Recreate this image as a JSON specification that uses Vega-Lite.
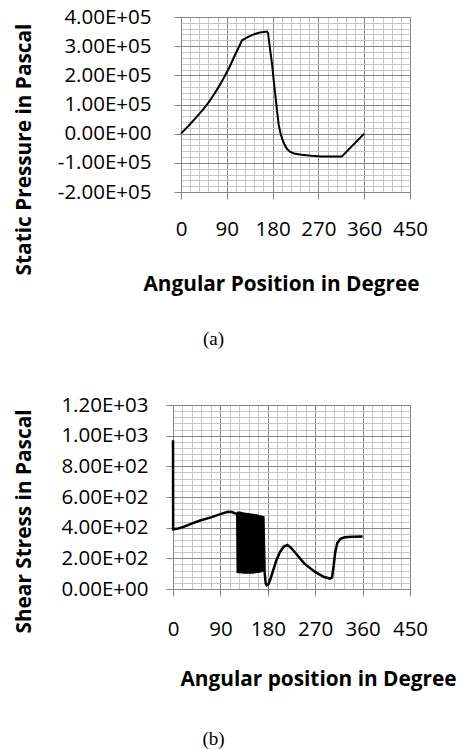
{
  "$schema": "https://vega.github.io/schema/vega-lite/v6.json",
  "padding": {"left": 13, "top": 7, "right": 0, "bottom": 0},
  "background": "white",
  "config": {
    "view": {"stroke": null},
    "axis": {
      "labelFont": "Open Sans", "labelFontSize": 20.5, "labelColor": "#000000",
      "titleFont": "Open Sans", "titleFontSize": 20.8, "titleFontWeight": "bold", "titleColor": "#000000",
      "domainColor": "#868686", "domainWidth": 1, "tickColor": "#868686", "tickWidth": 1,
      "labelOverlap": false, "labelFlush": false, "gridWidth": 1, "gridOpacity": 1
    }
  },
  "columns": 1,
  "spacing": 46,
  "datasets": {
    "pressure": [
      {"angle": 0, "pressure": 0},
      {"angle": 15, "pressure": 27000},
      {"angle": 29, "pressure": 54000},
      {"angle": 42, "pressure": 80000},
      {"angle": 55, "pressure": 109000},
      {"angle": 65, "pressure": 135000},
      {"angle": 75, "pressure": 163000},
      {"angle": 85, "pressure": 194000},
      {"angle": 95, "pressure": 227000},
      {"angle": 107, "pressure": 273000},
      {"angle": 114, "pressure": 298000},
      {"angle": 120, "pressure": 320000},
      {"angle": 133, "pressure": 333000},
      {"angle": 145, "pressure": 342000},
      {"angle": 155, "pressure": 347000},
      {"angle": 169, "pressure": 350000},
      {"angle": 171, "pressure": 345000},
      {"angle": 175, "pressure": 290000},
      {"angle": 179, "pressure": 238000},
      {"angle": 182, "pressure": 185000},
      {"angle": 186, "pressure": 123000},
      {"angle": 189, "pressure": 75000},
      {"angle": 192, "pressure": 31000},
      {"angle": 196, "pressure": -3000},
      {"angle": 202, "pressure": -32000},
      {"angle": 208, "pressure": -52000},
      {"angle": 214, "pressure": -62000},
      {"angle": 222, "pressure": -68000},
      {"angle": 237, "pressure": -72000},
      {"angle": 256, "pressure": -76000},
      {"angle": 276, "pressure": -78000},
      {"angle": 316, "pressure": -78000},
      {"angle": 360, "pressure": 0}
    ],
    "shear": [
      {"angle": 0, "stress": 970},
      {"angle": 0.3, "stress": 390},
      {"angle": 10, "stress": 395},
      {"angle": 20, "stress": 405},
      {"angle": 34, "stress": 425},
      {"angle": 50, "stress": 445},
      {"angle": 72, "stress": 467},
      {"angle": 90, "stress": 488},
      {"angle": 104, "stress": 504},
      {"angle": 112, "stress": 502},
      {"angle": 119, "stress": 492},
      {"angle": 122, "stress": 490},
      {"angle": 123, "stress": 105},
      {"angle": 124, "stress": 505},
      {"angle": 125, "stress": 103},
      {"angle": 126, "stress": 505},
      {"angle": 127, "stress": 102},
      {"angle": 128, "stress": 503},
      {"angle": 129, "stress": 102},
      {"angle": 130, "stress": 502},
      {"angle": 131, "stress": 101},
      {"angle": 132, "stress": 500},
      {"angle": 133, "stress": 101},
      {"angle": 134, "stress": 499},
      {"angle": 135, "stress": 100},
      {"angle": 136, "stress": 498},
      {"angle": 137, "stress": 100},
      {"angle": 138, "stress": 497},
      {"angle": 139, "stress": 100},
      {"angle": 140, "stress": 496},
      {"angle": 141, "stress": 100},
      {"angle": 142, "stress": 495},
      {"angle": 143, "stress": 100},
      {"angle": 144, "stress": 494},
      {"angle": 145, "stress": 100},
      {"angle": 146, "stress": 493},
      {"angle": 147, "stress": 100},
      {"angle": 148, "stress": 492},
      {"angle": 149, "stress": 100},
      {"angle": 150, "stress": 491},
      {"angle": 151, "stress": 100},
      {"angle": 152, "stress": 490},
      {"angle": 153, "stress": 101},
      {"angle": 154, "stress": 489},
      {"angle": 155, "stress": 102},
      {"angle": 156, "stress": 488},
      {"angle": 157, "stress": 103},
      {"angle": 158, "stress": 487},
      {"angle": 159, "stress": 104},
      {"angle": 160, "stress": 485},
      {"angle": 161, "stress": 105},
      {"angle": 162, "stress": 483},
      {"angle": 163, "stress": 106},
      {"angle": 164, "stress": 481},
      {"angle": 165, "stress": 108},
      {"angle": 166, "stress": 479},
      {"angle": 167, "stress": 110},
      {"angle": 168, "stress": 477},
      {"angle": 169, "stress": 112},
      {"angle": 170, "stress": 476},
      {"angle": 171, "stress": 114},
      {"angle": 171.5, "stress": 474},
      {"angle": 174, "stress": 110},
      {"angle": 176, "stress": 35},
      {"angle": 178, "stress": 24},
      {"angle": 181, "stress": 30},
      {"angle": 185, "stress": 65},
      {"angle": 190, "stress": 120},
      {"angle": 196, "stress": 185},
      {"angle": 203, "stress": 240},
      {"angle": 210, "stress": 275},
      {"angle": 217, "stress": 287},
      {"angle": 223, "stress": 272},
      {"angle": 233, "stress": 233},
      {"angle": 249, "stress": 167},
      {"angle": 269, "stress": 113},
      {"angle": 287, "stress": 78},
      {"angle": 298, "stress": 68},
      {"angle": 302, "stress": 75},
      {"angle": 305, "stress": 150},
      {"angle": 308, "stress": 240},
      {"angle": 312, "stress": 300},
      {"angle": 318, "stress": 328},
      {"angle": 326, "stress": 337},
      {"angle": 340, "stress": 341},
      {"angle": 360, "stress": 342}
    ]
  },
  "concat": [
    {
      "width": 237,
      "height": 175,
      "data": {"name": "pressure"},
      "title": {"text": "(a)", "orient": "bottom", "anchor": "middle", "frame": "group", "dx": -78, "offset": 36, "font": "Liberation Serif", "fontSize": 19, "fontWeight": "normal", "color": "#000000"},
      "mark": {"type": "line", "color": "#000000", "strokeWidth": 2},
      "encoding": {
        "x": {
          "field": "angle", "type": "quantitative",
          "scale": {"domain": [0, 450], "nice": false, "zero": false, "range": [8, 237]},
          "axis": {
            "values": [0, 18, 36, 54, 72, 90, 108, 126, 144, 162, 180, 198, 216, 234, 252, 270, 288, 306, 324, 342, 360, 378, 396, 414, 432, 450],
            "labelExpr": "datum.value % 90 == 0 ? datum.label : ''",
            "gridColor": {"condition": {"test": "datum.value % 90 == 0", "value": "#868686"}, "value": "#c6c6c6"},
            "tickOpacity": {"condition": {"test": "datum.value % 90 == 0", "value": 1}, "value": 0},
            "grid": true, "tickSize": 7, "labelPadding": 20, "domain": true,
            "title": "Angular Position in Degree",
            "titleX": 108, "titleY": 92, "titleAlign": "center", "titleBaseline": "middle"
          }
        },
        "y": {
          "field": "pressure", "type": "quantitative",
          "scale": {"domain": [-200000, 400000], "nice": false, "zero": false},
          "axis": {
            "values": [-200000, -180000, -160000, -140000, -120000, -100000, -80000, -60000, -40000, -20000, 0, 20000, 40000, 60000, 80000, 100000, 120000, 140000, 160000, 180000, 200000, 220000, 240000, 260000, 280000, 300000, 320000, 340000, 360000, 380000, 400000],
            "labelExpr": "datum.value == -200000 ? '-2.00E+05' : datum.value == -100000 ? '-1.00E+05' : datum.value == 0 ? '0.00E+00' : datum.value == 100000 ? '1.00E+05' : datum.value == 200000 ? '2.00E+05' : datum.value == 300000 ? '3.00E+05' : datum.value == 400000 ? '4.00E+05' : ''",
            "gridColor": {"condition": {"test": "datum.value % 100000 == 0", "value": "#868686"}, "value": "#c6c6c6"},
            "tickOpacity": {"condition": {"test": "datum.value % 100000 == 0", "value": 1}, "value": 0},
            "grid": true, "tickSize": 7, "labelPadding": 23, "domain": true, "offset": -8,
            "title": "Static Pressure in Pascal",
            "titleX": -157, "titleY": 132, "titleAngle": -90, "titleAlign": "center", "titleBaseline": "middle"
          }
        }
      }
    },
    {
      "width": 237,
      "height": 184,
      "data": {"name": "shear"},
      "title": {"text": "(b)", "orient": "bottom", "anchor": "middle", "frame": "group", "dx": -78, "offset": 41, "font": "Liberation Serif", "fontSize": 19, "fontWeight": "normal", "color": "#000000"},
      "mark": {"type": "line", "color": "#000000", "strokeWidth": 2.5},
      "encoding": {
        "x": {
          "field": "angle", "type": "quantitative",
          "scale": {"domain": [0, 450], "nice": false, "zero": false},
          "axis": {
            "values": [0, 18, 36, 54, 72, 90, 108, 126, 144, 162, 180, 198, 216, 234, 252, 270, 288, 306, 324, 342, 360, 378, 396, 414, 432, 450],
            "labelExpr": "datum.value % 90 == 0 ? datum.label : ''",
            "gridColor": {"condition": {"test": "datum.value % 90 == 0", "value": "#868686"}, "value": "#c6c6c6"},
            "tickOpacity": {"condition": {"test": "datum.value % 90 == 0", "value": 1}, "value": 0},
            "grid": true, "tickSize": 7, "labelPadding": 23, "domain": true,
            "title": "Angular position in Degree",
            "titleX": 145, "titleY": 90, "titleAlign": "center", "titleBaseline": "middle"
          }
        },
        "y": {
          "field": "stress", "type": "quantitative",
          "scale": {"domain": [0, 1200], "nice": false, "zero": false},
          "axis": {
            "values": [0, 40, 80, 120, 160, 200, 240, 280, 320, 360, 400, 440, 480, 520, 560, 600, 640, 680, 720, 760, 800, 840, 880, 920, 960, 1000, 1040, 1080, 1120, 1160, 1200],
            "labelExpr": "datum.value == 0 ? '0.00E+00' : datum.value == 200 ? '2.00E+02' : datum.value == 400 ? '4.00E+02' : datum.value == 600 ? '6.00E+02' : datum.value == 800 ? '8.00E+02' : datum.value == 1000 ? '1.00E+03' : datum.value == 1200 ? '1.20E+03' : ''",
            "gridColor": {"condition": {"test": "datum.value % 200 == 0", "value": "#868686"}, "value": "#c6c6c6"},
            "tickOpacity": {"condition": {"test": "datum.value % 200 == 0", "value": 1}, "value": 0},
            "grid": true, "tickSize": 7, "labelPadding": 18, "domain": true,
            "title": "Shear Stress in Pascal",
            "titleX": -149, "titleY": 116, "titleAngle": -90, "titleAlign": "center", "titleBaseline": "middle"
          }
        }
      }
    }
  ]
}
